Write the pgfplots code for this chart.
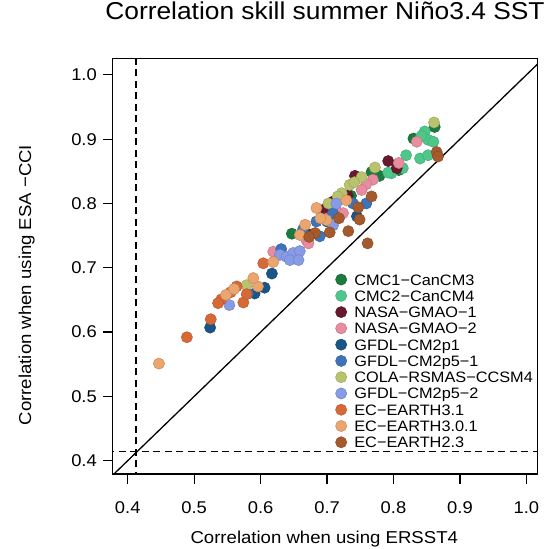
\documentclass[border=0pt]{standalone}
\usepackage{fontspec}
\setmainfont{Liberation Sans}[FakeStretch=1.08]
\usepackage{pgfplots}
\pgfplotsset{compat=1.18}
\definecolor{c1}{RGB}{27,122,62}
\definecolor{c2}{RGB}{78,200,138}
\definecolor{c3}{RGB}{105,25,45}
\definecolor{c4}{RGB}{232,140,160}
\definecolor{c5}{RGB}{25,85,135}
\definecolor{c6}{RGB}{60,115,185}
\definecolor{c7}{RGB}{185,195,110}
\definecolor{c8}{RGB}{135,155,230}
\definecolor{c9}{RGB}{215,105,55}
\definecolor{c10}{RGB}{235,165,110}
\definecolor{c11}{RGB}{165,90,45}
\pgfplotsset{dot/.style={only marks, mark=*, mark size=5.6pt, mark options={draw=#1!85!black, line width=0.5pt, fill=#1}}}
\begin{document}
\begin{tikzpicture}
\begin{axis}[
  at={(0,0)}, anchor=south west,
  scale only axis, width=424.6pt, height=415.7pt,
  xmin=0.3774, xmax=1.0164, ymin=0.3793, ymax=1.0258,
  axis line style={line width=1.3pt},
  tick align=outside, major tick length=9.5pt,
  tick style={black, line width=1.2pt},
  xtick pos=bottom, ytick pos=left,
  xtick={0.4,0.5,0.6,0.7,0.8,0.9,1.0},
  ytick={0.4,0.5,0.6,0.7,0.8,0.9,1.0},
  xticklabels={0.4,0.5,0.6,0.7,0.8,0.9,1.0},
  yticklabels={0.4,0.5,0.6,0.7,0.8,0.9,1.0},
  ticklabel style={font=\fontsize{17}{17}\selectfont, inner sep=0pt},
  xticklabel style={yshift=-18.2pt},
  yticklabel style={xshift=-6.2pt},
  title={Correlation skill summer Niño3.4 SST},
  title style={at={(axis description cs:0.5,1.0777)}, anchor=base, font=\fontsize{24.4}{25}\selectfont, inner sep=0pt},
  xlabel={Correlation when using ERSST4},
  xlabel style={at={(axis description cs:0.4983,-0.166)}, anchor=base, font=\fontsize{17.2}{18}\selectfont, inner sep=0pt},
  ylabel={Correlation when using ESA −CCI},
  ylabel style={at={(axis description cs:-0.1924,0.4547)}, anchor=base, font=\fontsize{17.2}{18}\selectfont, inner sep=0pt},
  legend style={at={(axis cs:0.7125,0.6907)}, anchor=north west, draw=none, fill=none, inner sep=0pt, row sep=5.07pt, column sep=7.6pt,
    font=\fontsize{15.1}{15.1}\selectfont, nodes={inner sep=0pt, text height=11pt, text depth=0pt}},
  legend cell align=left,
  legend image code/.code={\draw[#1] plot coordinates {(0pt,0pt)};},
]
\addplot[black, line width=1.3pt, forget plot] coordinates {(0.3,0.3) (1.1,1.1)};
\addplot[black, line width=1.1pt, dash pattern=on 7pt off 4.5pt, forget plot] coordinates {(0.4125,0.3) (0.4125,1.1)};
\addplot[black, line width=1.1pt, dash pattern=on 7pt off 4.5pt, forget plot] coordinates {(0.3,0.414) (1.1,0.414)};

\addplot[dot=c1] coordinates {(0.647,0.753) (0.767,0.849) (0.779,0.843) (0.830,0.901) (0.862,0.919) (0.808,0.852) (0.736,0.812)};
\addlegendentry{CMC1−CanCM3}
\addplot[dot=c2] coordinates {(0.797,0.847) (0.814,0.855) (0.819,0.875) (0.840,0.870) (0.852,0.875) (0.847,0.912) (0.852,0.899) (0.860,0.896) (0.842,0.905) (0.792,0.848)};
\addlegendentry{CMC2−CanCM4}
\addplot[dot=c3] coordinates {(0.792,0.866) (0.805,0.855) (0.742,0.843) (0.709,0.803) (0.694,0.790) (0.731,0.812) (0.672,0.752)};
\addlegendentry{NASA−GMAO−1}
\addplot[dot=c4] coordinates {(0.808,0.863) (0.835,0.896) (0.769,0.837) (0.759,0.830) (0.752,0.821) (0.724,0.785) (0.701,0.777) (0.669,0.743) (0.672,0.738) (0.619,0.725) (0.712,0.792)};
\addlegendentry{NASA−GMAO−2}
\addplot[dot=c5] coordinates {(0.524,0.607) (0.591,0.660) (0.606,0.669) (0.617,0.691) (0.745,0.780) (0.700,0.772)};
\addlegendentry{GFDL−CM2p1}
\addplot[dot=c6] coordinates {(0.631,0.729) (0.684,0.772) (0.709,0.785) (0.739,0.800) (0.759,0.800) (0.689,0.749) (0.581,0.660) (0.664,0.760)};
\addlegendentry{GFDL−CM2p5−1}
\addplot[dot=c7] coordinates {(0.579,0.673) (0.722,0.816) (0.734,0.829) (0.752,0.841) (0.772,0.856) (0.861,0.926) (0.716,0.811) (0.741,0.833) (0.702,0.800)};
\addlegendentry{COLA−RSMAS−CCSM4}
\addplot[dot=c8] coordinates {(0.553,0.642) (0.629,0.720) (0.639,0.717) (0.649,0.723) (0.659,0.726) (0.644,0.712) (0.657,0.712) (0.709,0.766) (0.714,0.800)};
\addlegendentry{GFDL−CM2p5−2}
\addplot[dot=c9] coordinates {(0.489,0.592) (0.525,0.620) (0.541,0.651) (0.574,0.646) (0.579,0.659) (0.564,0.671) (0.604,0.707) (0.555,0.662) (0.536,0.645)};
\addlegendentry{EC−EARTH3.1}
\addplot[dot=c10] coordinates {(0.447,0.551) (0.548,0.658) (0.596,0.671) (0.589,0.684) (0.619,0.709) (0.659,0.751) (0.667,0.767) (0.684,0.793) (0.699,0.774) (0.729,0.805) (0.560,0.667) (0.690,0.777)};
\addlegendentry{EC−EARTH3.0.1}
\addplot[dot=c11] coordinates {(0.682,0.754) (0.704,0.755) (0.718,0.777) (0.732,0.757) (0.747,0.794) (0.749,0.775) (0.767,0.811) (0.761,0.738) (0.865,0.880) (0.867,0.873) (0.673,0.748)};
\addlegendentry{EC−EARTH2.3}
\end{axis}
\pgfresetboundingbox
\path (-112.7pt,-75pt) rectangle (431.3pt,474pt);
\end{tikzpicture}
\end{document}
